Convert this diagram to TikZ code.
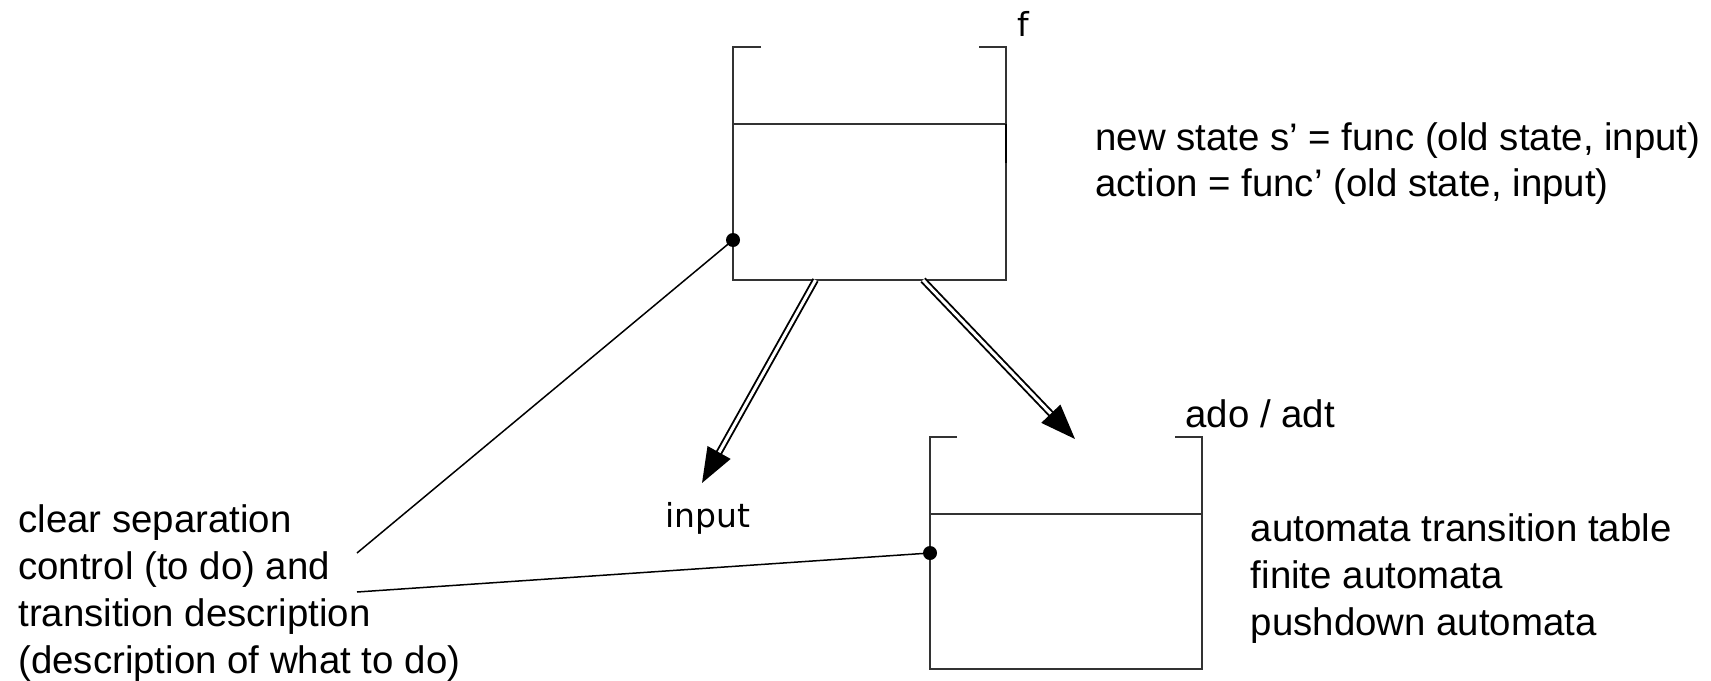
\documentclass[tikz,border=0pt]{standalone}
\usepackage{fontspec}
\setmainfont{Liberation Sans}
\newfontfamily\labelfont{DejaVu Sans}
\usetikzlibrary{arrows.meta}
\begin{document}
\begin{tikzpicture}[x=0.5pt,y=-0.5pt,
  frame/.style={draw=black!80, line width=0.6pt},
  flow/.style={draw, double, line width=0.95pt, double distance=1.5pt,
    -{Triangle[length=17.5pt,width=13pt]}},
  link/.style={draw, line width=0.75pt},
  joint/.style={circle, fill, inner sep=0pt, minimum size=7pt},
  txt/.style={font=\fontsize{19.2pt}{23.35pt}\selectfont, inner sep=0pt,
    align=left, anchor=base west},
  tag/.style={font=\labelfont\fontsize{16.5pt}{20pt}\selectfont, inner sep=0pt,
    anchor=base west}]
\useasboundingbox (0,0) rectangle (1711,680);

% upper box: the transition function f
\coordinate (fA) at (733,47);
\coordinate (fB) at (1006,47);
\coordinate (fC) at (1006,280);
\coordinate (fD) at (733,280);
\path[frame] (761,47) -- (fA) -- (fD) -- (fC) -- (fB) -- (979,47);
\path[frame] (733,124) -- (1006,124);
\draw[line width=0.9pt] (1006,124) -- (1006,163);
\node[joint] (fdot) at (733,240) {};
\coordinate (fout1) at (815.5,280);
\coordinate (fout2) at (923,280);

% lower box: the data object
\coordinate (aA) at (930,437);
\coordinate (aB) at (1202,437);
\coordinate (aC) at (1202,669);
\coordinate (aD) at (930,669);
\path[frame] (957,437) -- (aA) -- (aD) -- (aC) -- (aB) -- (1175,437);
\path[frame] (930,514) -- (1202,514);
\node[joint] (adot) at (930,553) {};
\coordinate (ain) at (1075,439);

% labels (multi-line texts are placed by the baseline of their last line)
\node[tag] (f) at (1017,36) {f};
\node[txt] (func) at (1095,196.7) {new state s’ = func (old state, input)\\action = func’ (old state, input)};
\node[txt] (ado) at (1185,427) {ado / adt};
\node[tag] (input) at (665,527) {input};
\coordinate (inputTip) at (702,483);
\node[txt] (kinds) at (1250.5,635) {automata transition table\\finite automata\\pushdown automata};
\node[txt] (sep) at (18,673) {clear separation\\control (to do) and\\transition description\\(description of what to do)};
\coordinate (sepEnd1) at (357,553);
\coordinate (sepEnd2) at (357,592);

% flows out of f
\path[flow] (fout1) -- (inputTip);
\path[flow] (fout2) -- (ain);

% annotation lines
\path[link] (fdot.center) -- (sepEnd1);
\path[link] (adot.center) -- (sepEnd2);
\end{tikzpicture}
\end{document}
